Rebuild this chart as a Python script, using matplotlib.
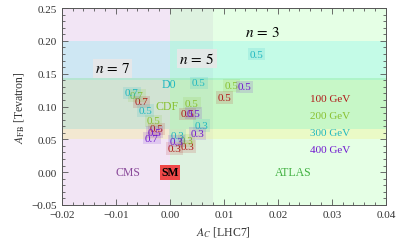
import matplotlib
matplotlib.use("Agg")
import matplotlib.pyplot as plt
from matplotlib.ticker import MultipleLocator

plt.rcParams['font.family'] = ['Liberation Serif', 'DejaVu Serif']
plt.rcParams['mathtext.fontset'] = 'stix'

masses = ["100 GeV", "200 GeV", "300 GeV", "400 GeV"]
mass_colors = ["#b01818", "#88c030", "#20b8c0", "#7018d0"]

# coupling labels and positions (A_C, A_FB) per mass
pts_100_x = [-0.0052, -0.0024, 0.0033, 0.0033, 0.0009, 0.0102]
pts_100_y = [0.107, 0.066, 0.089, 0.039, 0.036, 0.114]
pts_100_l = ["0.7", "0.5", "0.5", "0.3", "0.3", "0.5"]

pts_200_x = [-0.0061, -0.0030, 0.0041, 0.0031, 0.0115]
pts_200_y = [0.117, 0.078, 0.105, 0.048, 0.132]
pts_200_l = ["0.7", "0.5", "0.5", "0.3", "0.5"]

pts_300_x = [-0.0070, -0.0045, 0.0054, 0.0059, 0.0015, 0.0161]
pts_300_y = [0.121, 0.094, 0.136, 0.071, 0.056, 0.180]
pts_300_l = ["0.7", "0.5", "0.5", "0.3", "0.3", "0.5"]

pts_400_x = [-0.0033, -0.0028, 0.0044, 0.0052, 0.0013, 0.0139]
pts_400_y = [0.052, 0.061, 0.090, 0.059, 0.047, 0.130]
pts_400_l = ["0.7", "0.5", "0.5", "0.3", "0.3", "0.5"]

cms_range = (-0.02, 0.008)
atlas_range = (0.0, 0.04)
d0_range = (0.14, 0.20)
cdf_range = (0.065, 0.143)
low_band = (0.05, 0.065)

fig = plt.figure(figsize=(3.99, 2.53), dpi=100)
ax = fig.add_axes([0.155, 0.186, 0.812, 0.778])
ax.set_xlim(-0.02, 0.04)
ax.set_ylim(-0.05, 0.25)

ax.axvspan(*cms_range, color="#e8d0ee", alpha=0.55, lw=0)
ax.axvspan(*atlas_range, color="#ccffcc", alpha=0.5, lw=0)
ax.axhspan(*d0_range, color="#50f0f0", alpha=0.22, lw=0)
ax.axhspan(*cdf_range, color="#70e070", alpha=0.25, lw=0)
ax.axhspan(*low_band, color="#f8f080", alpha=0.3, lw=0)

groups = [(pts_100_x, pts_100_y, pts_100_l), (pts_200_x, pts_200_y, pts_200_l),
          (pts_300_x, pts_300_y, pts_300_l), (pts_400_x, pts_400_y, pts_400_l)]
for (xs, ys, ls), c in zip(groups, mass_colors):
    for x, y, l in zip(xs, ys, ls):
        ax.text(x, y, l, color=c, fontsize=8, ha="center", va="center",
                bbox=dict(boxstyle="square,pad=0.15", fc=c, ec="none", alpha=0.14))

legend_y = [0.112, 0.086, 0.061, 0.035]
for m, c, y in zip(masses, mass_colors, legend_y):
    ax.text(0.0296, y, m, color=c, fontsize=8, ha="center", va="center")

boxprops = dict(boxstyle="square,pad=0.15", fc="#e8e8e8", ec="none", alpha=0.9)
ax.text(-0.0106, 0.158, r"$n\,=\,7$", fontsize=11, ha="center", va="center", bbox=boxprops)
ax.text(0.0050, 0.173, r"$n\,=\,5$", fontsize=11, ha="center", va="center", bbox=boxprops)
ax.text(0.0172, 0.214, r"$n\,=\,3$", fontsize=11, ha="center", va="center")

ax.text(-0.0001, 0.134, "D0", color="#20b8c0", fontsize=8.5, ha="center", va="center")
ax.text(-0.0005, 0.101, "CDF", color="#88c030", fontsize=8.5, ha="center", va="center")
ax.text(-0.0078, 0.0, "CMS", color="#8a4a9a", fontsize=8.5, ha="center", va="center")
ax.text(0.0228, 0.0, "ATLAS", color="#40b040", fontsize=8.5, ha="center", va="center")
ax.text(0.0, 0.0, "SM", color="black", fontsize=8.5, fontweight="bold", ha="center", va="center",
        bbox=dict(boxstyle="square,pad=0.12", fc="#f04848", ec="none"))

ax.xaxis.set_major_locator(MultipleLocator(0.01))
ax.xaxis.set_minor_locator(MultipleLocator(0.002))
ax.yaxis.set_major_locator(MultipleLocator(0.05))
ax.yaxis.set_minor_locator(MultipleLocator(0.01))
ax.xaxis.set_major_formatter(plt.FuncFormatter(lambda v, p: f"{v:.2f}".replace("-", "\u2212")))
ax.yaxis.set_major_formatter(plt.FuncFormatter(lambda v, p: f"{v:.2f}".replace("-", "\u2212")))
ax.tick_params(which="both", direction="in", top=True, right=True, colors="#555555",
               labelcolor="#333333", labelsize=8, width=0.6)
ax.tick_params(which="major", length=4)
ax.tick_params(which="minor", length=2)
for s in ax.spines.values():
    s.set_color("#555555")
    s.set_linewidth(0.7)

ax.set_xlabel(r"$A_C$ [LHC7]", fontsize=8.5, color="#333333")
ax.set_ylabel(r"$A_{\rm FB}$ [Tevatron]", fontsize=8.5, color="#333333")

fig.savefig("out.png", dpi=100)
